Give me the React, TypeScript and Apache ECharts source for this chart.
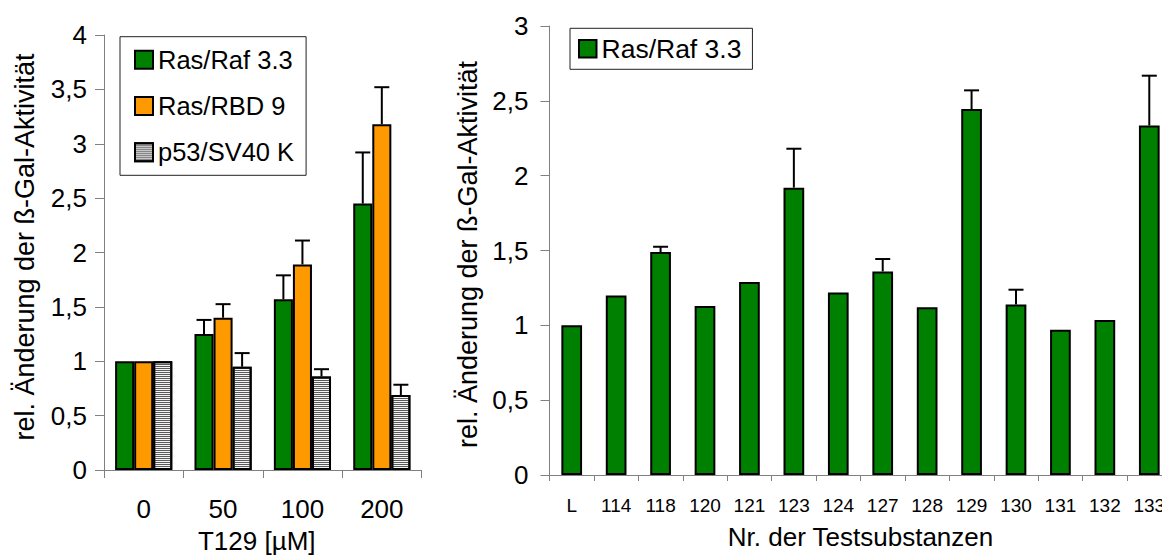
import React, { useEffect, useRef } from 'react';
import * as echarts from 'echarts';

// ---- Left chart: dose response (T129 [µM]) ----
const leftCategories = ['0', '50', '100', '200'];
const rasRafDose = [1, 1.25, 1.57, 2.45];
const rasRafDoseErr = [0, 0.13, 0.22, 0.47];
const rasRbdDose = [1, 1.4, 1.89, 3.18];
const rasRbdDoseErr = [0, 0.125, 0.22, 0.34];
const p53Dose = [1, 0.95, 0.86, 0.69];
const p53DoseErr = [0, 0.125, 0.067, 0.094];
const leftYTicks = ['0', '0,5', '1', '1,5', '2', '2,5', '3', '3,5', '4'];

// ---- Right chart: test substances ----
const rightCategories = ['L', '114', '118', '120', '121', '123', '124', '127', '128', '129', '130', '131', '132', '133'];
const rasRafScreen = [1.0, 1.2, 1.49, 1.13, 1.29, 1.92, 1.22, 1.36, 1.12, 2.445, 1.14, 0.97, 1.035, 2.335];
const rasRafScreenErr = [0, 0, 0.035, 0, 0, 0.26, 0, 0.083, 0, 0.125, 0.098, 0, 0, 0.333];
const rightYTicks = ['0', '0,5', '1', '1,5', '2', '2,5', '3'];

const FONT = '"Liberation Sans", Arial, Helvetica, sans-serif';
const GREEN = '#008000';
const ORANGE = '#ff9900';
const AXIS_GRAY = '#808080';

function errSeries(axisIdx: number, values: number[], errs: number[], pos: number, count: number, gapFrac: number, name: string) {
  return {
    type: 'custom',
    name,
    xAxisIndex: axisIdx,
    yAxisIndex: axisIdx,
    z: 5,
    silent: true,
    data: values.map((v, i) => [i, v, v + errs[i]]).filter((d) => d[2] > d[1]),
    renderItem: (params: any, api: any) => {
      const cat = api.value(0);
      const base = api.coord([cat, api.value(1)]);
      const top = api.coord([cat, api.value(2)]);
      const band = api.size([1, 0])[0];
      const barW = (band * (1 - gapFrac)) / count;
      const x = base[0] + (pos - (count - 1) / 2) * barW;
      return {
        type: 'group',
        children: [
          { type: 'line', shape: { x1: x, y1: base[1], x2: x, y2: top[1] }, style: { stroke: '#000', lineWidth: 2 } },
          { type: 'line', shape: { x1: x - 7.5, y1: top[1], x2: x + 7.5, y2: top[1] }, style: { stroke: '#000', lineWidth: 2 } },
        ],
      };
    },
  };
}

export default function App() {
  const ref = useRef<HTMLDivElement>(null);

  useEffect(() => {
    if (!ref.current) return;
    const chart = echarts.init(ref.current, undefined, { renderer: 'svg' });
    const axisLine = { show: true, lineStyle: { color: AXIS_GRAY, width: 1 } };
    const axisTick = { show: true, length: 9, inside: false, lineStyle: { color: AXIS_GRAY, width: 1 } };
    const leftGap = 0.28;

    chart.setOption({
      animation: false,
      backgroundColor: '#ffffff',
      textStyle: { fontFamily: FONT, color: '#000' },
      grid: [
        { left: 104, top: 35, width: 317.5, height: 439, containLabel: false },
        { left: 549.5, top: 26, width: 622, height: 449, containLabel: false },
      ],
      legend: [
        {
          orient: 'vertical',
          left: 120,
          top: 36.7,
          data: ['Ras/Raf 3.3', 'Ras/RBD 9', 'p53/SV40 K'],
          itemWidth: 18,
          itemHeight: 18,
          itemGap: 20.3,
          padding: [10, 12, 10, 14],
          borderColor: '#222',
          borderWidth: 1,
          icon: 'rect',
          selectedMode: false,
          textStyle: { fontSize: 25.5, lineHeight: 26, color: '#000', fontFamily: FONT },
        },
        {
          orient: 'horizontal',
          left: 570,
          top: 28.3,
          data: ['Ras/Raf 3.3'],
          itemWidth: 17.5,
          itemHeight: 17.5,
          padding: [7, 11, 7, 8],
          borderColor: '#222',
          borderWidth: 1,
          icon: 'rect',
          selectedMode: false,
          textStyle: { fontSize: 26.5, lineHeight: 26, color: '#000', fontFamily: FONT },
        },
      ],
      xAxis: [
        {
          type: 'category',
          gridIndex: 0,
          data: leftCategories,
          boundaryGap: true,
          axisLine,
          axisTick: { ...axisTick, length: 8 },
          axisLabel: { interval: 0, margin: 25.5, fontSize: 26, color: '#000', fontFamily: FONT },
          name: 'T129 [µM]',
          nameLocation: 'middle',
          nameGap: 58,
          nameTextStyle: { fontSize: 26, color: '#000', fontFamily: FONT, padding: [0, 12, 0, 0] },
          splitLine: { show: false },
        },
        {
          type: 'category',
          gridIndex: 1,
          data: rightCategories,
          boundaryGap: true,
          axisLine,
          axisTick: { ...axisTick, length: 6 },
          axisLabel: { interval: 0, margin: 20.5, fontSize: 19, color: '#000', fontFamily: FONT },
          name: 'Nr. der Testsubstanzen',
          nameLocation: 'middle',
          nameGap: 49,
          nameTextStyle: { fontSize: 26, color: '#000', fontFamily: FONT },
          splitLine: { show: false },
        },
      ],
      yAxis: [
        {
          type: 'value',
          gridIndex: 0,
          min: 0,
          max: 4,
          interval: 0.5,
          axisLine,
          axisTick,
          splitLine: { show: false },
          axisLabel: {
            margin: 17,
            fontSize: 26,
            color: '#000',
            fontFamily: FONT,
            formatter: (v: number) => leftYTicks[Math.round(v / 0.5)],
          },
          name: 'rel. Änderung der ß-Gal-Aktivität',
          nameLocation: 'middle',
          nameGap: 66,
          nameRotate: 90,
          nameTextStyle: { fontSize: 27, color: '#000', fontFamily: FONT, padding: [0, 0, 0, 11] },
        },
        {
          type: 'value',
          gridIndex: 1,
          min: 0,
          max: 3,
          interval: 0.5,
          axisLine,
          axisTick,
          splitLine: { show: false },
          axisLabel: {
            margin: 21,
            fontSize: 26,
            color: '#000',
            fontFamily: FONT,
            formatter: (v: number) => rightYTicks[Math.round(v / 0.5)],
          },
          name: 'rel. Änderung der ß-Gal-Aktivität',
          nameLocation: 'middle',
          nameGap: 66,
          nameRotate: 90,
          nameTextStyle: { fontSize: 27, color: '#000', fontFamily: FONT, padding: [0, 8, 0, 0] },
        },
      ],
      series: [
        {
          type: 'bar',
          name: 'Ras/Raf 3.3',
          xAxisIndex: 0,
          yAxisIndex: 0,
          data: rasRafDose,
          barGap: '0%',
          barCategoryGap: '28%',
          itemStyle: { color: GREEN, borderColor: '#000', borderWidth: 2 },
        },
        {
          type: 'bar',
          name: 'Ras/RBD 9',
          xAxisIndex: 0,
          yAxisIndex: 0,
          data: rasRbdDose,
          barGap: '0%',
          barCategoryGap: '28%',
          itemStyle: { color: ORANGE, borderColor: '#000', borderWidth: 2 },
        },
        {
          type: 'bar',
          name: 'p53/SV40 K',
          xAxisIndex: 0,
          yAxisIndex: 0,
          data: p53Dose,
          barGap: '0%',
          barCategoryGap: '28%',
          itemStyle: {
            color: '#f4f4f4',
            borderColor: '#000',
            borderWidth: 2,
            decal: {
              symbol: 'rect',
              symbolSize: 1,
              color: '#5a5a5a',
              dashArrayX: [1, 0],
              dashArrayY: [1, 1],
              rotation: 0,
            },
          },
        },
        errSeries(0, rasRafDose, rasRafDoseErr, 0, 3, leftGap, 'errRasRaf'),
        errSeries(0, rasRbdDose, rasRbdDoseErr, 1, 3, leftGap, 'errRasRbd'),
        errSeries(0, p53Dose, p53DoseErr, 2, 3, leftGap, 'errP53'),
        {
          type: 'bar',
          name: 'Ras/Raf 3.3',
          xAxisIndex: 1,
          yAxisIndex: 1,
          data: rasRafScreen,
          barWidth: '46.6%',
          itemStyle: { color: GREEN, borderColor: '#000', borderWidth: 2 },
        },
        errSeries(1, rasRafScreen, rasRafScreenErr, 0, 1, 0, 'errScreen'),
      ],
    });

    return () => {
      chart.dispose();
    };
  }, []);

  return (
    <div style={{ position: 'fixed', left: 0, top: 0, width: 1162, height: 559, overflow: 'hidden', background: '#fff' }}>
      <div ref={ref} style={{ width: 1200, height: 559 }} />
    </div>
  );
}
